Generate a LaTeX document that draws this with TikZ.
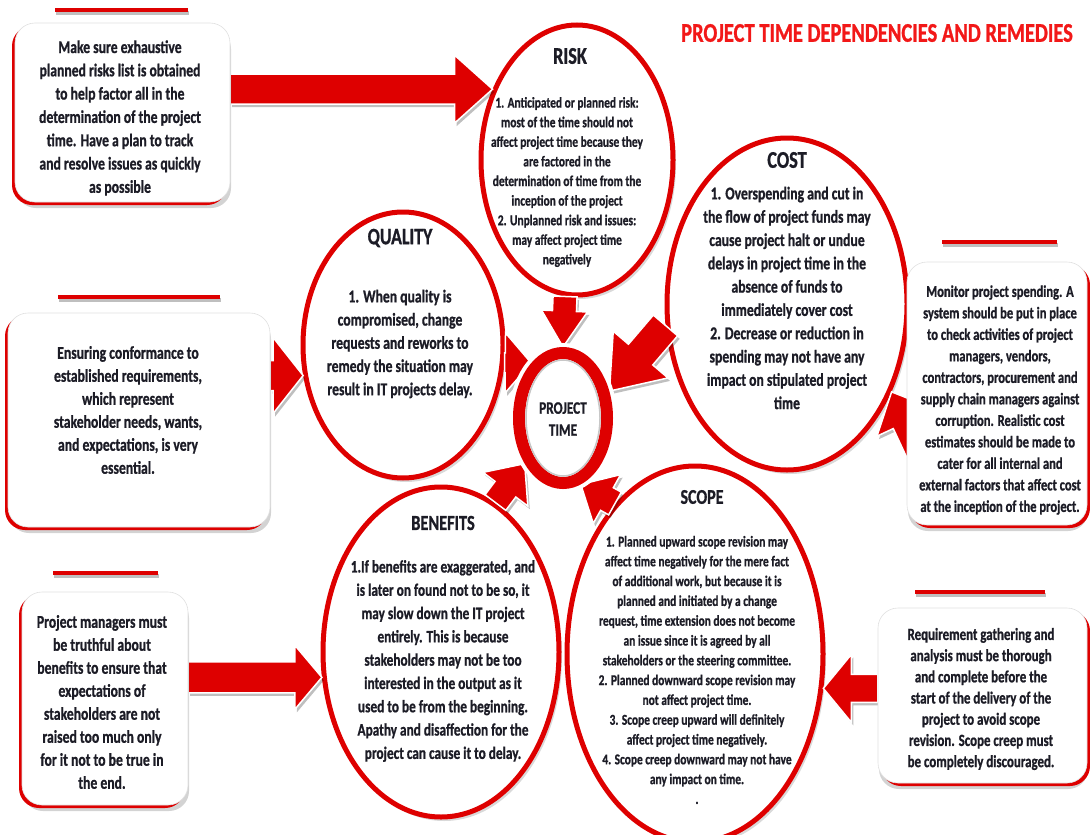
\documentclass[tikz,border=0pt]{standalone}
\usepackage{fontspec}
\setmainfont{Carlito}[FakeStretch=0.76, BoldFeatures={FakeBold=0.9}]
\usetikzlibrary{shapes.geometric,shadows,calc}
\definecolor{myred}{RGB}{222,0,0}
\definecolor{ttlred}{RGB}{242,24,24}
\definecolor{textc}{RGB}{28,28,38}
\newcommand\myfs[2]{\fontsize{#1}{#2}\selectfont\bfseries}
\newcommand\barr[5]{%
 \path let \p1=(#1), \p2=(#2) in \pgfextra{%
   \pgfmathparse{atan2(\y2-\y1,\x2-\x1)}\xdef\bA{\pgfmathresult}%
   \pgfmathparse{veclen(\x2-\x1,\y2-\y1)}\xdef\bL{\pgfmathresult}%
   \xdef\bX{\x1}\xdef\bY{\y1}};
 \fill[arrshadow, xshift=2pt, yshift=-3pt, shift={(\bX,\bY)}, rotate=\bA]
   (0,-#3) -- ({\bL-#5},-#3) -- ({\bL-#5},-#4) -- (\bL,0) -- ({\bL-#5},#4) -- ({\bL-#5},#3) -- (0,#3) -- cycle;
 \filldraw[arrbody, shift={(\bX,\bY)}, rotate=\bA]
   (0,-#3) -- ({\bL-#5},-#3) -- ({\bL-#5},-#4) -- (\bL,0) -- ({\bL-#5},#4) -- ({\bL-#5},#3) -- (0,#3) -- cycle;}
\tikzset{
 circ/.style={ellipse, draw=myred, line width=5pt, fill=white, inner sep=0pt,
   drop shadow={shadow xshift=3pt, shadow yshift=-4pt, opacity=.3}},
 boxl/.style={rectangle, rounded corners=20pt, fill=white, draw=black!12, line width=.6pt,
   drop shadow={shadow xshift=1pt, shadow yshift=-6pt, opacity=.35},
   general shadow={shadow xshift=-3pt, shadow yshift=-3pt, fill=myred}},
 boxr/.style={rectangle, rounded corners=20pt, fill=white, draw=black!12, line width=.6pt,
   drop shadow={shadow xshift=1pt, shadow yshift=-6pt, opacity=.35},
   general shadow={shadow xshift=3pt, shadow yshift=-3pt, fill=myred}},
 arrbody/.style={fill=myred, draw=white, line width=1.5pt, line join=miter},
 arrshadow/.style={fill=black, opacity=.25},
 bar/.style={draw=myred, line width=4pt},
 barsh/.style={draw=black, opacity=.25, line width=4pt},
 tx/.style={align=center, text=textc, inner sep=0pt},
}
\begin{document}
\begin{tikzpicture}[x=1pt, y=-1pt]
\useasboundingbox (0,0) rectangle (1090,835);
% title
\node[align=center, text=ttlred, inner sep=0pt, font=\myfs{27}{30}] (ttl) at (877,33) {PROJECT TIME DEPENDENCIES AND REMEDIES};
% circles
\node[circ, minimum width=200pt, minimum height=266pt] (quality) at (403,345) {};
\node[circ, minimum width=236pt, minimum height=330pt] (benefits) at (441,652) {};
\node[circ, minimum width=256pt, minimum height=376pt] (scope) at (695,654) {};
\node[circ, minimum width=240pt, minimum height=332pt] (cost) at (787,304) {};
\node[circ, minimum width=192pt, minimum height=270pt] (risk) at (577,160) {};
% remedy boxes (positions)
\path (122.5,112.5) node[minimum width=215pt, minimum height=179pt, inner sep=0pt] (b1) {};
\path (139,420) node[minimum width=262pt, minimum height=214pt, inner sep=0pt] (b2) {};
\path (105,698.5) node[minimum width=166pt, minimum height=213pt, inner sep=0pt] (b3) {};
\path (997,393.5) node[minimum width=180pt, minimum height=263pt, inner sep=0pt] (c1) {};
\path (982.5,695.5) node[minimum width=209pt, minimum height=175pt, inner sep=0pt] (s1) {};
\coordinate (c1tail) at (928,470);
% arrows from remedy boxes
\barr{b1.east |- risk.140}{risk.140}{15}{34}{38}
\barr{b2.east |- quality.-163}{quality.-163}{15}{38}{30}
\barr{b3.east |- benefits.-168}{benefits.-168}{15.5}{32}{27}
\barr{c1tail}{cost.-40}{14}{32}{34}
\barr{s1.west |- scope.-15}{scope.-15}{14}{34}{28}
% boxes drawn
\node[boxl, minimum width=215pt, minimum height=179pt] at (b1) {};
\node[boxl, minimum width=262pt, minimum height=214pt] at (b2) {};
\node[boxl, minimum width=166pt, minimum height=213pt] at (b3) {};
\node[boxr, minimum width=180pt, minimum height=263pt] at (c1) {};
\node[boxr, minimum width=209pt, minimum height=175pt] at (s1) {};
% bars
\draw[barsh] (56,13) -- (189,13);
\draw[bar] (55,10) -- (188,10);
\draw[barsh] (59,300) -- (221,300);
\draw[bar] (58,297) -- (220,297);
\draw[barsh] (54,576) -- (159,576);
\draw[bar] (53,573) -- (158,573);
\draw[barsh] (943,245) -- (1058,245);
\draw[bar] (942,242) -- (1057,242);
\draw[barsh] (916,595) -- (1046,595);
\draw[bar] (915,592) -- (1045,592);
% arrows into project time
\node[ellipse, minimum width=88pt, minimum height=130pt, inner sep=0pt, line width=12pt] (ptpos) at (563,418) {};
\barr{risk.-95}{ptpos.north}{12}{23}{36}
\barr{quality.-10}{ptpos.120}{10}{30}{26}
\barr{cost.190}{ptpos.30}{16}{36}{48}
\barr{benefits.70}{ptpos.-130}{13}{28}{32}
\barr{scope.118}{ptpos.-75}{13}{28}{30}
% project time circle
\node[ellipse, fill=white, draw=myred, line width=12pt, minimum width=88pt, minimum height=130pt, inner sep=0pt,
  drop shadow={shadow xshift=2pt, shadow yshift=-3pt, opacity=.3},
  preaction={draw=white, line width=20pt}] (pt) at (563,418) {};
\draw[black!22, line width=1.5pt] (pt.center) ellipse [x radius=37pt, y radius=58pt];
\node[tx, font=\myfs{17.5}{22}] (ptt) at (563,419) {PROJECT\\TIME};
% circle texts
\node[tx, font=\myfs{24}{28}] (riskh) at (570,56) {RISK};
\node[tx, font=\myfs{15}{19.6}] (riskb) at (567,182) {1. Anticipated or planned risk:\\most of the time should not\\affect project time because they\\are factored in the\\determination of time from the\\inception of the project\\2. Unplanned risk and issues:\\may affect project time\\negatively};
\node[tx, font=\myfs{24}{28}] (costh) at (787,160) {COST};
\node[tx, font=\myfs{18}{23.3}] (costb) at (787,298) {1. Overspending and cut in\\the flow of project funds may\\cause project halt or undue\\delays in project time in the\\absence of funds to\\immediately cover cost\\2. Decrease or reduction in\\spending may not have any\\impact on stipulated project\\time};
\node[tx, font=\myfs{23.5}{28}] (qualh) at (400,238) {QUALITY};
\node[tx, font=\myfs{18}{23.2}] (qualb) at (400,344) {1. When quality is\\compromised, change\\requests and reworks to\\remedy the situation may\\result in IT projects delay.};
\node[tx, font=\myfs{21.5}{26}] (beneh) at (443,523) {BENEFITS};
\node[tx, font=\myfs{17.5}{23.3}] (beneb) at (443,661) {1.If benefits are exaggerated, and\\is later on found not to be so, it\\may slow down the IT project\\entirely. This is because\\stakeholders may not be too\\interested in the output as it\\used to be from the beginning.\\Apathy and disaffection for the\\project can cause it to delay.};
\node[tx, font=\myfs{21}{26}] (scopeh) at (702,497) {SCOPE};
\node[tx, font=\myfs{15}{19.8}] (scopeb) at (697,670) {1. Planned upward scope revision may\\affect time negatively for the mere fact\\of additional work, but because it is\\planned and initiated by a change\\request, time extension does not become\\an issue since it is agreed by all\\stakeholders or the steering committee.\\2. Planned downward scope revision may\\not affect project time.\\3. Scope creep upward will definitely\\affect project time negatively.\\4. Scope creep downward may not have\\any impact on time.\\.};
% box texts
\node[tx, font=\myfs{18}{23.3}] (b1t) at (120,118) {Make sure exhaustive\\planned risks list is obtained\\to help factor all in the\\determination of the project\\time. Have a plan to track\\and resolve issues as quickly\\as possible};
\node[tx, font=\myfs{18}{23}] (b2t) at (128,410) {Ensuring conformance to\\established requirements,\\which represent\\stakeholder needs, wants,\\and expectations, is very\\essential.};
\node[tx, font=\myfs{18}{23}] (b3t) at (102,702) {Project managers must\\be truthful about\\benefits to ensure that\\expectations of\\stakeholders are not\\raised too much only\\for it not to be true in\\the end.};
\node[tx, font=\myfs{16.5}{21.5}] (c1t) at (1000,400) {Monitor project spending. A\\system should be put in place\\to check activities of project\\managers, vendors,\\contractors, procurement and\\supply chain managers against\\corruption. Realistic cost\\estimates should be made to\\cater for all internal and\\external factors that affect cost\\at the inception of the project.};
\node[tx, font=\myfs{17}{21.2}] (s1t) at (981,699) {Requirement gathering and\\analysis must be thorough\\and complete before the\\start of the delivery of the\\project to avoid scope\\revision. Scope creep must\\be completely discouraged.};
\end{tikzpicture}
\end{document}
